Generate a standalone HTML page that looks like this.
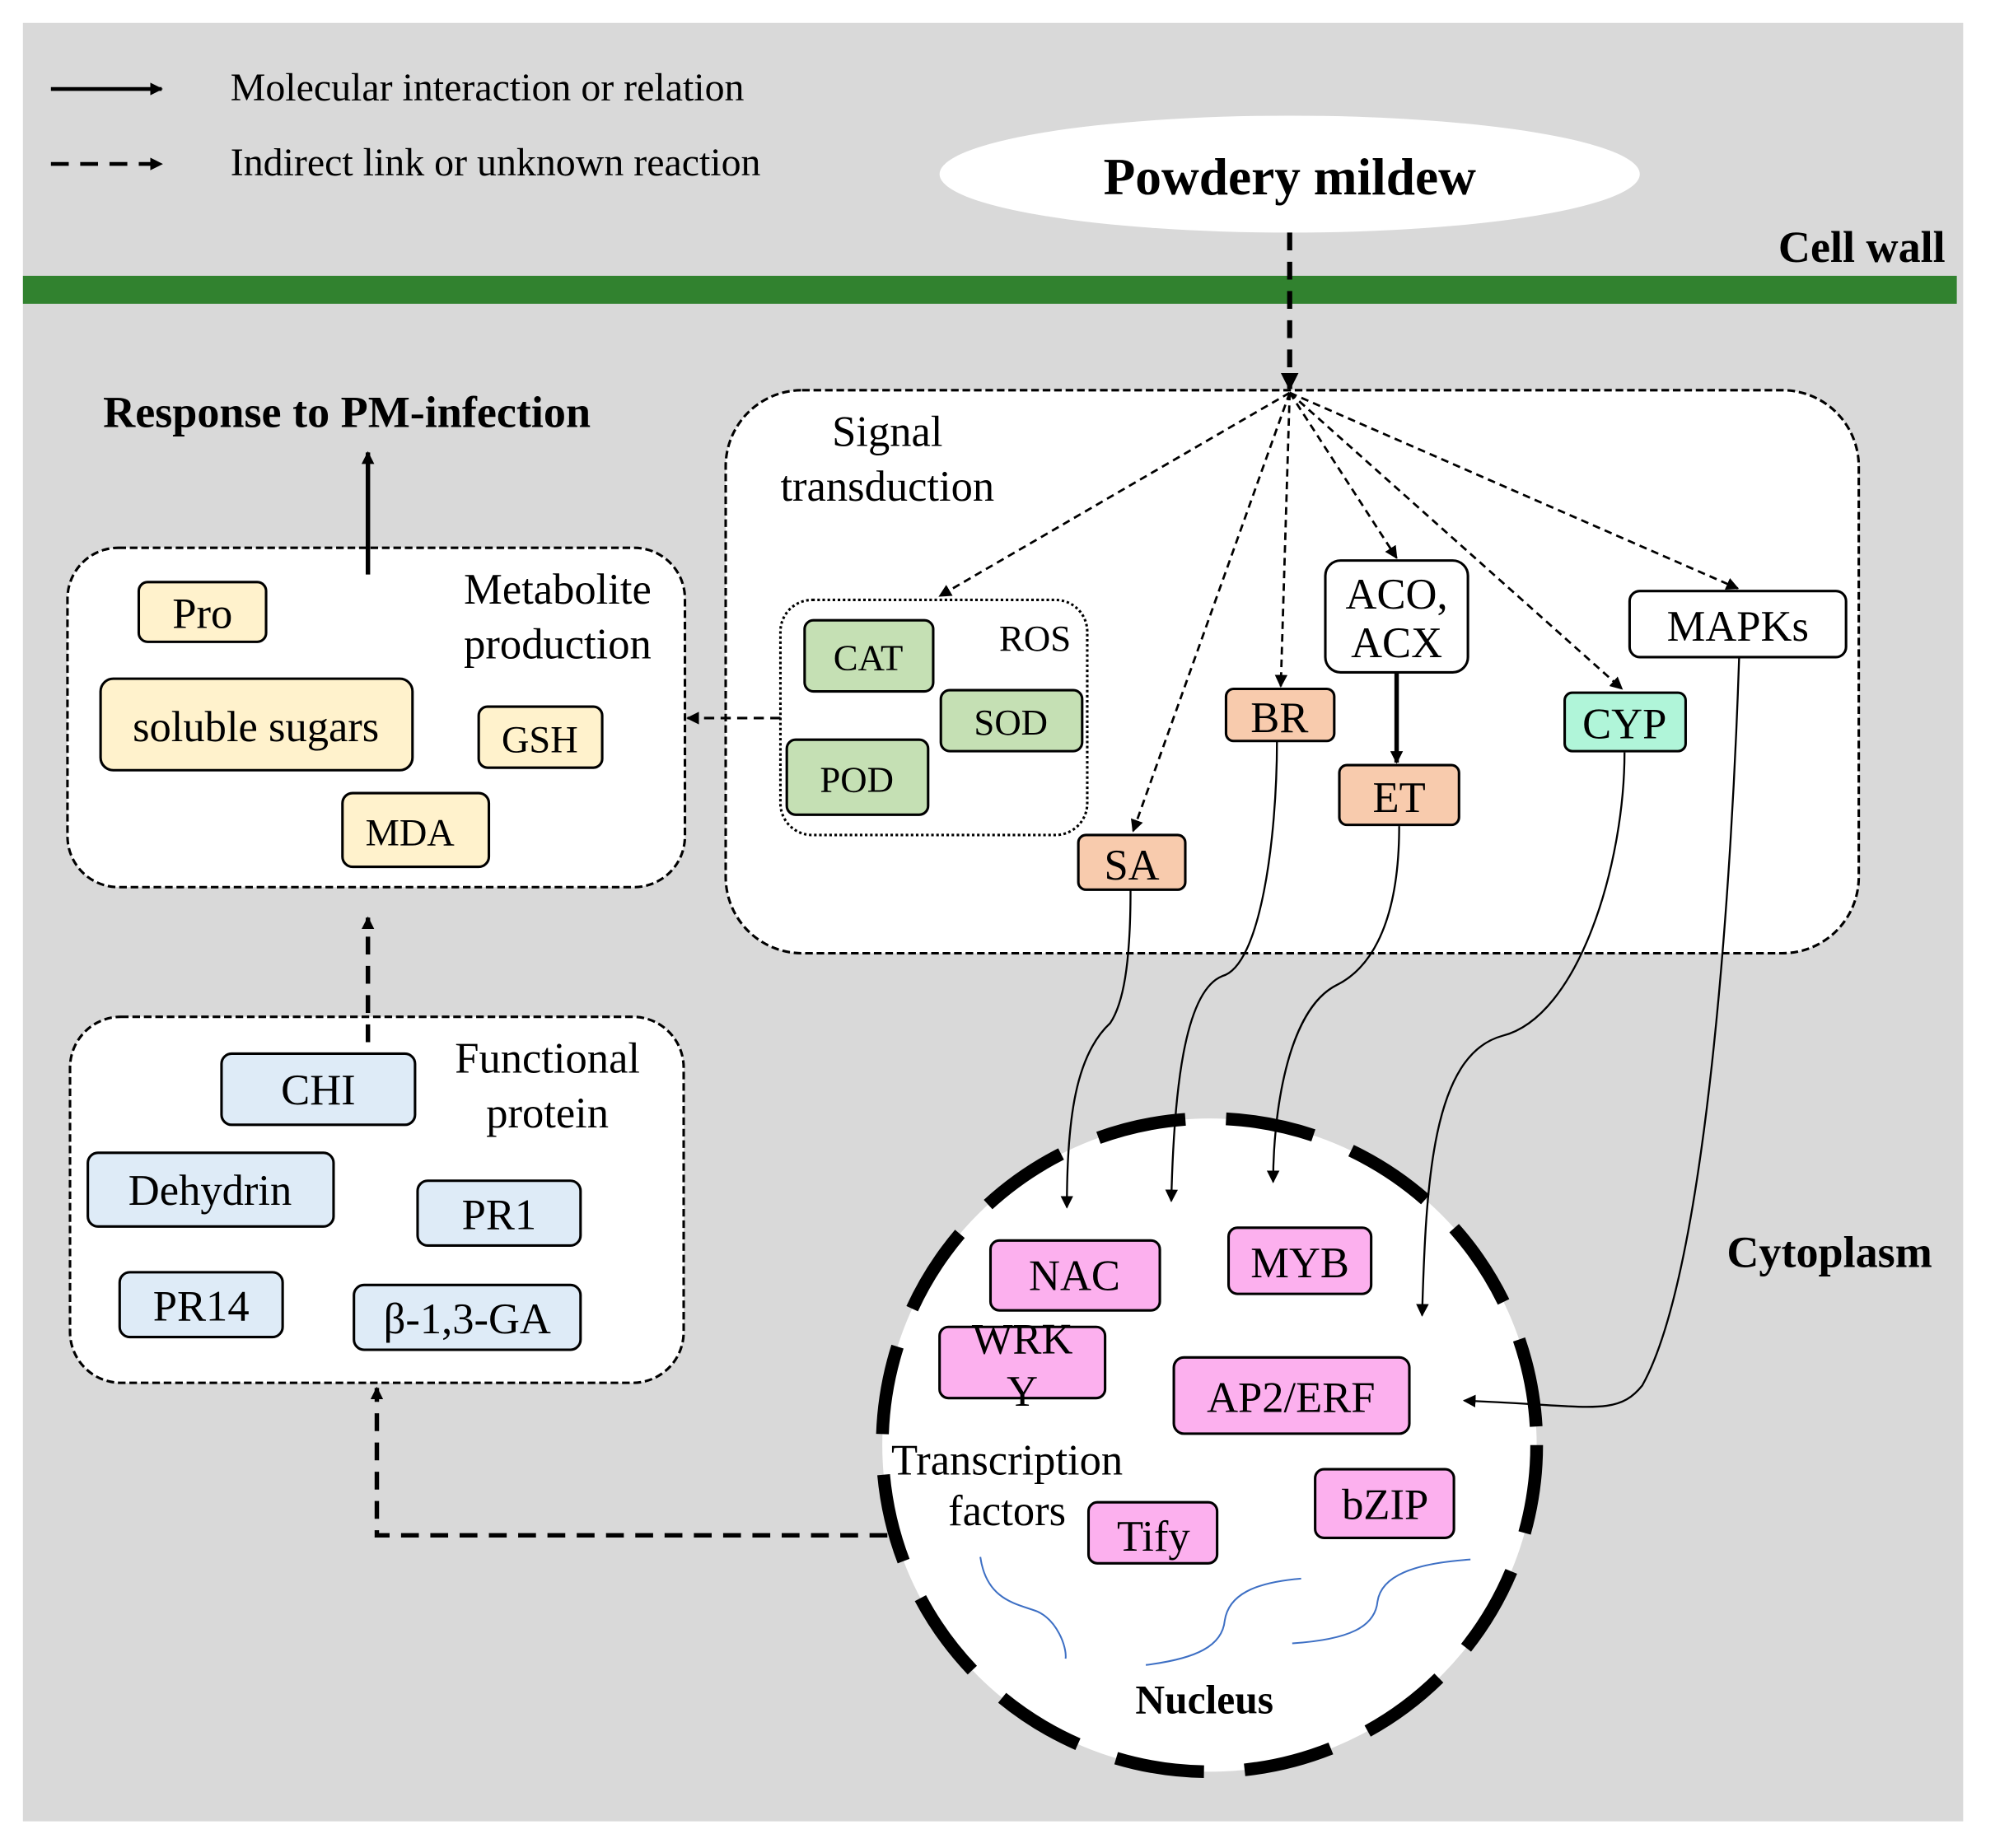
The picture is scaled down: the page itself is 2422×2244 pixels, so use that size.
<!DOCTYPE html>
<html><head><meta charset="utf-8"><style>html,body{margin:0;padding:0;background:#fff}svg{display:block}text{font-family:"Liberation Serif",serif;fill:#000}</style></head><body>
<svg width="2422" height="2244" viewBox="0 0 1567 1454" preserveAspectRatio="none" xmlns="http://www.w3.org/2000/svg">
<defs>
<marker id="a" viewBox="0 0 10 10" refX="9" refY="5" markerWidth="10" markerHeight="10" markerUnits="userSpaceOnUse" orient="auto"><path d="M0,0L10,5L0,10z" fill="#000"/></marker>
<marker id="b" viewBox="0 0 10 10" refX="9" refY="5" markerWidth="14" markerHeight="14" markerUnits="userSpaceOnUse" orient="auto"><path d="M0,0L10,5L0,10z" fill="#000"/></marker>
</defs>
<rect x="18" y="18" width="1524" height="1415" fill="#d9d9d9"/>
<rect x="18" y="217" width="1519" height="22" fill="#31822f"/>
<line x1="40" y1="70" x2="127" y2="70" stroke="#000" stroke-width="3" marker-end="url(#a)"/>
<line x1="40" y1="129" x2="127" y2="129" stroke="#000" stroke-width="3" stroke-dasharray="14,9" marker-end="url(#a)"/>
<text x="181" y="79" font-size="31">Molecular interaction or relation</text>
<text x="181" y="138" font-size="31">Indirect link or unknown reaction</text>
<ellipse cx="1013" cy="137" rx="275" ry="46" fill="#fff"/>
<text x="1013" y="153" font-size="41" font-weight="bold" text-anchor="middle">Powdery mildew</text>
<text x="1528" y="206" font-size="35" font-weight="bold" text-anchor="end">Cell wall</text>
<line x1="1013" y1="183" x2="1013" y2="306" stroke="#000" stroke-width="4" stroke-dasharray="14,9" marker-end="url(#b)"/>
<rect x="570" y="307" width="890" height="443" rx="60" fill="#fff" stroke="#000" stroke-width="2" stroke-dasharray="6,3"/>
<text x="697" y="351" font-size="34" text-anchor="middle">Signal</text>
<text x="697" y="394" font-size="34" text-anchor="middle">transduction</text>
<g stroke="#000" stroke-width="1.8" stroke-dasharray="6,4" fill="none" marker-end="url(#a)">
<line x1="1013" y1="309" x2="738" y2="469"/>
<line x1="1013" y1="309" x2="890" y2="654"/>
<line x1="1013" y1="309" x2="1006" y2="540"/>
<line x1="1013" y1="309" x2="1097" y2="439"/>
<line x1="1013" y1="309" x2="1274" y2="542"/>
<line x1="1013" y1="309" x2="1365" y2="463"/>
</g>
<rect x="613" y="472" width="241" height="185" rx="25" fill="#fff" stroke="#000" stroke-width="2" stroke-dasharray="2,2"/>
<text x="813" y="512" font-size="29" text-anchor="middle">ROS</text>
<g stroke="#000" stroke-width="2">
<rect x="632" y="488" width="101" height="56" rx="7" fill="#c5e0b4"/>
<rect x="739" y="543" width="111" height="48" rx="7" fill="#c5e0b4"/>
<rect x="618" y="582" width="111" height="59" rx="7" fill="#c5e0b4"/>
<rect x="963" y="542" width="85" height="41" rx="6" fill="#f8cbad"/>
<rect x="1052" y="602" width="94" height="47" rx="6" fill="#f8cbad"/>
<rect x="847" y="657" width="84" height="43" rx="6" fill="#f8cbad"/>
<rect x="1041" y="441" width="112" height="88" rx="12" fill="#fff"/>
<rect x="1229" y="545" width="95" height="46" rx="6" fill="#b0f5d9"/>
<rect x="1280" y="465" width="170" height="52" rx="8" fill="#fff"/>
</g>
<g font-size="29" text-anchor="middle">
<text x="682" y="527">CAT</text>
<text x="794" y="578">SOD</text>
<text x="673" y="623">POD</text>
</g>
<g font-size="34" text-anchor="middle">
<text x="1005" y="576">BR</text>
<text x="1099" y="639">ET</text>
<text x="889" y="692">SA</text>
<text x="1097" y="479">ACO,</text>
<text x="1097" y="517">ACX</text>
<text x="1276" y="581">CYP</text>
<text x="1365" y="504">MAPKs</text>
</g>
<line x1="1097" y1="529" x2="1097" y2="600" stroke="#000" stroke-width="3.5" marker-end="url(#a)"/>
<rect x="53" y="431" width="485" height="267" rx="40" fill="#fff" stroke="#000" stroke-width="2" stroke-dasharray="6,3"/>
<text x="438" y="475" font-size="34" text-anchor="middle">Metabolite</text>
<text x="438" y="518" font-size="34" text-anchor="middle">production</text>
<g stroke="#000" stroke-width="2" fill="#fff2cc">
<rect x="109" y="458" width="100" height="47" rx="7"/>
<rect x="79" y="534" width="245" height="72" rx="10"/>
<rect x="376" y="556" width="97" height="48" rx="7"/>
<rect x="269" y="624" width="115" height="58" rx="8"/>
</g>
<g font-size="34" text-anchor="middle">
<text x="159" y="494">Pro</text>
<text x="201" y="583">soluble sugars</text>
<text x="424" y="592" font-size="30">GSH</text>
<text x="322" y="665" font-size="30">MDA</text>
</g>
<line x1="613" y1="565" x2="540" y2="565" stroke="#000" stroke-width="2" stroke-dasharray="8,5" marker-end="url(#a)"/>
<line x1="289" y1="452" x2="289" y2="356" stroke="#000" stroke-width="3.5" marker-end="url(#a)"/>
<text x="81" y="336" font-size="35" font-weight="bold">Response to PM-infection</text>
<rect x="55" y="800" width="482" height="288" rx="40" fill="#fff" stroke="#000" stroke-width="2" stroke-dasharray="6,3"/>
<line x1="289" y1="820" x2="289" y2="722" stroke="#000" stroke-width="3.5" stroke-dasharray="14,9" marker-end="url(#a)"/>
<text x="430" y="844" font-size="34" text-anchor="middle">Functional</text>
<text x="430" y="887" font-size="34" text-anchor="middle">protein</text>
<g stroke="#000" stroke-width="2" fill="#deebf7">
<rect x="174" y="829" width="152" height="56" rx="8"/>
<rect x="69" y="907" width="193" height="58" rx="8"/>
<rect x="328" y="929" width="128" height="51" rx="8"/>
<rect x="94" y="1001" width="128" height="51" rx="8"/>
<rect x="278" y="1011" width="178" height="51" rx="8"/>
</g>
<g font-size="34" text-anchor="middle">
<text x="250" y="869">CHI</text>
<text x="165" y="948">Dehydrin</text>
<text x="392" y="967">PR1</text>
<text x="158" y="1039">PR14</text>
<text x="367" y="1049">β-1,3-GA</text>
</g>
<circle cx="950" cy="1137" r="257" fill="#fff" stroke="#000" stroke-width="10" stroke-dasharray="70,32"/>
<path d="M697,1208 L296,1208 L296,1092" fill="none" stroke="#000" stroke-width="3.5" stroke-dasharray="14,9" marker-end="url(#a)"/>
<g stroke="#000" stroke-width="2" fill="#fcb0ee">
<rect x="778" y="976" width="133" height="55" rx="7"/>
<rect x="965" y="966" width="112" height="52" rx="7"/>
<rect x="738" y="1044" width="130" height="56" rx="7"/>
<rect x="922" y="1068" width="185" height="60" rx="8"/>
<rect x="1033" y="1156" width="109" height="54" rx="7"/>
<rect x="855" y="1182" width="101" height="48" rx="7"/>
</g>
<g font-size="34" text-anchor="middle">
<text x="844" y="1015">NAC</text>
<text x="1021" y="1005">MYB</text>
<text x="803" y="1065">WRK</text>
<text x="803" y="1106">Y</text>
<text x="1014" y="1111">AP2/ERF</text>
<text x="1088" y="1195">bZIP</text>
<text x="906" y="1220">Tify</text>
<text x="791" y="1160">Transcription</text>
<text x="791" y="1200">factors</text>
<text x="946" y="1348" font-weight="bold" font-size="32">Nucleus</text>
</g>
<text x="1437" y="997" font-size="35" font-weight="bold" text-anchor="middle">Cytoplasm</text>
<g fill="none" stroke="#000" stroke-width="1.5" marker-end="url(#a)">
<path d="M888,700 C888,760 882,790 872,805 C845,830 838,880 838,950"/>
<path d="M1003,583 C1003,660 990,760 960,768 C930,780 922,860 920,945"/>
<path d="M1099,650 C1099,720 1080,760 1050,775 C1010,795 1000,880 1000,930"/>
<path d="M1276,592 C1276,680 1240,800 1180,815 C1125,830 1120,930 1117,1035"/>
<path d="M1366,518 C1360,700 1340,1000 1290,1090 C1270,1115 1250,1106 1150,1102"/>
</g>
<g fill="none" stroke="#3d6fc4" stroke-width="1.3">
<path d="M770,1225 C775,1260 800,1262 815,1268 C830,1275 838,1295 837,1305"/>
<path d="M900,1310 C940,1305 960,1295 962,1275 C965,1255 985,1245 1022,1242"/>
<path d="M1015,1293 C1060,1290 1080,1280 1082,1260 C1085,1240 1110,1230 1155,1227"/>
</g>
</svg>
</body></html>
